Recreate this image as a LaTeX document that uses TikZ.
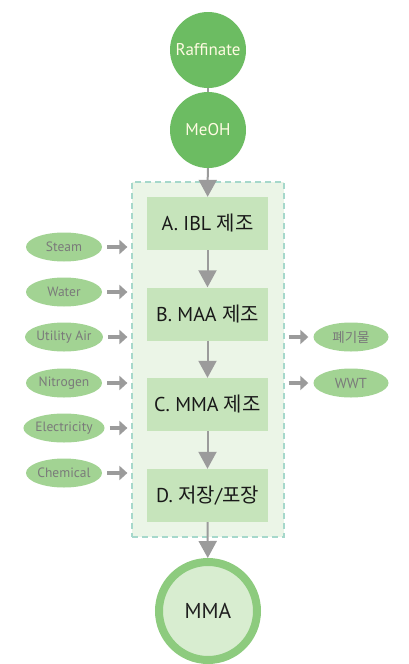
\documentclass[tikz,border=0pt]{standalone}
\usepackage{fontspec}
\setmainfont{PT Sans}
\newfontfamily\kr{Noto Sans CJK KR}
\usetikzlibrary{arrows.meta,shapes.geometric}
\definecolor{feedgreen}{HTML}{6CBC62}
\definecolor{utilgreen}{HTML}{A2D393}
\definecolor{stepgreen}{HTML}{C6E4BB}
\definecolor{plantbg}{HTML}{EBF5E7}
\definecolor{plantline}{HTML}{A6D8CB}
\definecolor{ringgreen}{HTML}{8DCB7E}
\definecolor{coregreen}{HTML}{D8EDD0}
\definecolor{arrowgray}{HTML}{9B9B9B}
\definecolor{utiltext}{HTML}{7A7A7A}
\definecolor{feedtext}{HTML}{FFFBE2}
\begin{document}
\begin{tikzpicture}[x=1pt, y=-1pt,
  feed/.style={circle, fill=feedgreen, minimum size=76pt, inner sep=0pt, text=feedtext, font=\fontsize{17}{17}\selectfont},
  stepbox/.style={rectangle, fill=stepgreen, minimum width=121pt, minimum height=53pt, inner sep=0pt, text=black!90, font=\fontsize{20}{20}\selectfont},
  util/.style={ellipse, fill=utilgreen, minimum width=76pt, minimum height=29pt, inner sep=0pt, text=utiltext, font=\fontsize{13.5}{14}\selectfont},
  plant/.style={rectangle, fill=plantbg, draw=plantline, line width=1.2pt, dash pattern=on 6pt off 4pt, inner sep=0pt},
  flow/.style={draw=arrowgray, line width=2pt, -{Triangle[width=18pt,length=17pt]}},
  side/.style={draw=arrowgray, line width=4pt, -{Triangle[width=14pt,length=8pt]}},
  product/.style={circle, fill=coregreen, draw=ringgreen, line width=8pt, minimum size=98pt, inner sep=0pt, text=black!88, font=\fontsize{21.5}{22}\selectfont}]
\useasboundingbox (0,0) rectangle (408,664);
\node[plant, minimum width=152pt, minimum height=355pt] (plantbox) at (208,359.5){};
\node[feed] (raff) at (208,50){Raffinate};
\node[feed] (meoh) at (208,130){MeOH};
\draw[draw=arrowgray, line width=2pt](raff) -- (meoh);
\node[stepbox] (ibl) at (207.5,223.5){A. IBL {\kr 제조}};
\node[stepbox] (maa) at (207.5,314){B. MAA {\kr 제조}};
\node[stepbox] (mma) at (207.5,404.5){C. MMA {\kr 제조}};
\node[stepbox] (pack) at (207.5,495.5){D. {\kr 저장}/{\kr 포장}};
\node[product] (prod) at (208,611){MMA};
\draw[flow](meoh) -- (ibl);
\draw[flow](ibl) -- (maa);
\draw[flow](maa) -- (mma);
\draw[flow](mma) -- (pack);
\draw[flow](pack) -- (prod);
\node[util] (steam) at (64,247){Steam};
\node[util] (water) at (64,292){Water};
\node[util] (air) at (64,337){Utility Air};
\node[util] (nitro) at (64,383){Nitrogen};
\node[util] (elec) at (64,428){Electricity};
\node[util] (chem) at (64,473){Chemical};
\foreach \u in {steam,water,air,nitro,elec,chem}
  \draw[side, shorten <=5pt, shorten >=4pt](\u.east) -- (\u.east -| plantbox.west);
\node[util, minimum width=75pt, font=\kr\fontsize{13.5}{14}\selectfont] (waste) at (351,337){폐기물};
\node[util, minimum width=75pt, font=\fontsize{14.5}{15}\selectfont] (wwt) at (351,383){WWT};
\draw[side, shorten <=4pt, shorten >=5pt](waste.west -| plantbox.east) -- (waste.west);
\draw[side, shorten <=4pt, shorten >=5pt](wwt.west -| plantbox.east) -- (wwt.west);
\end{tikzpicture}
\end{document}
